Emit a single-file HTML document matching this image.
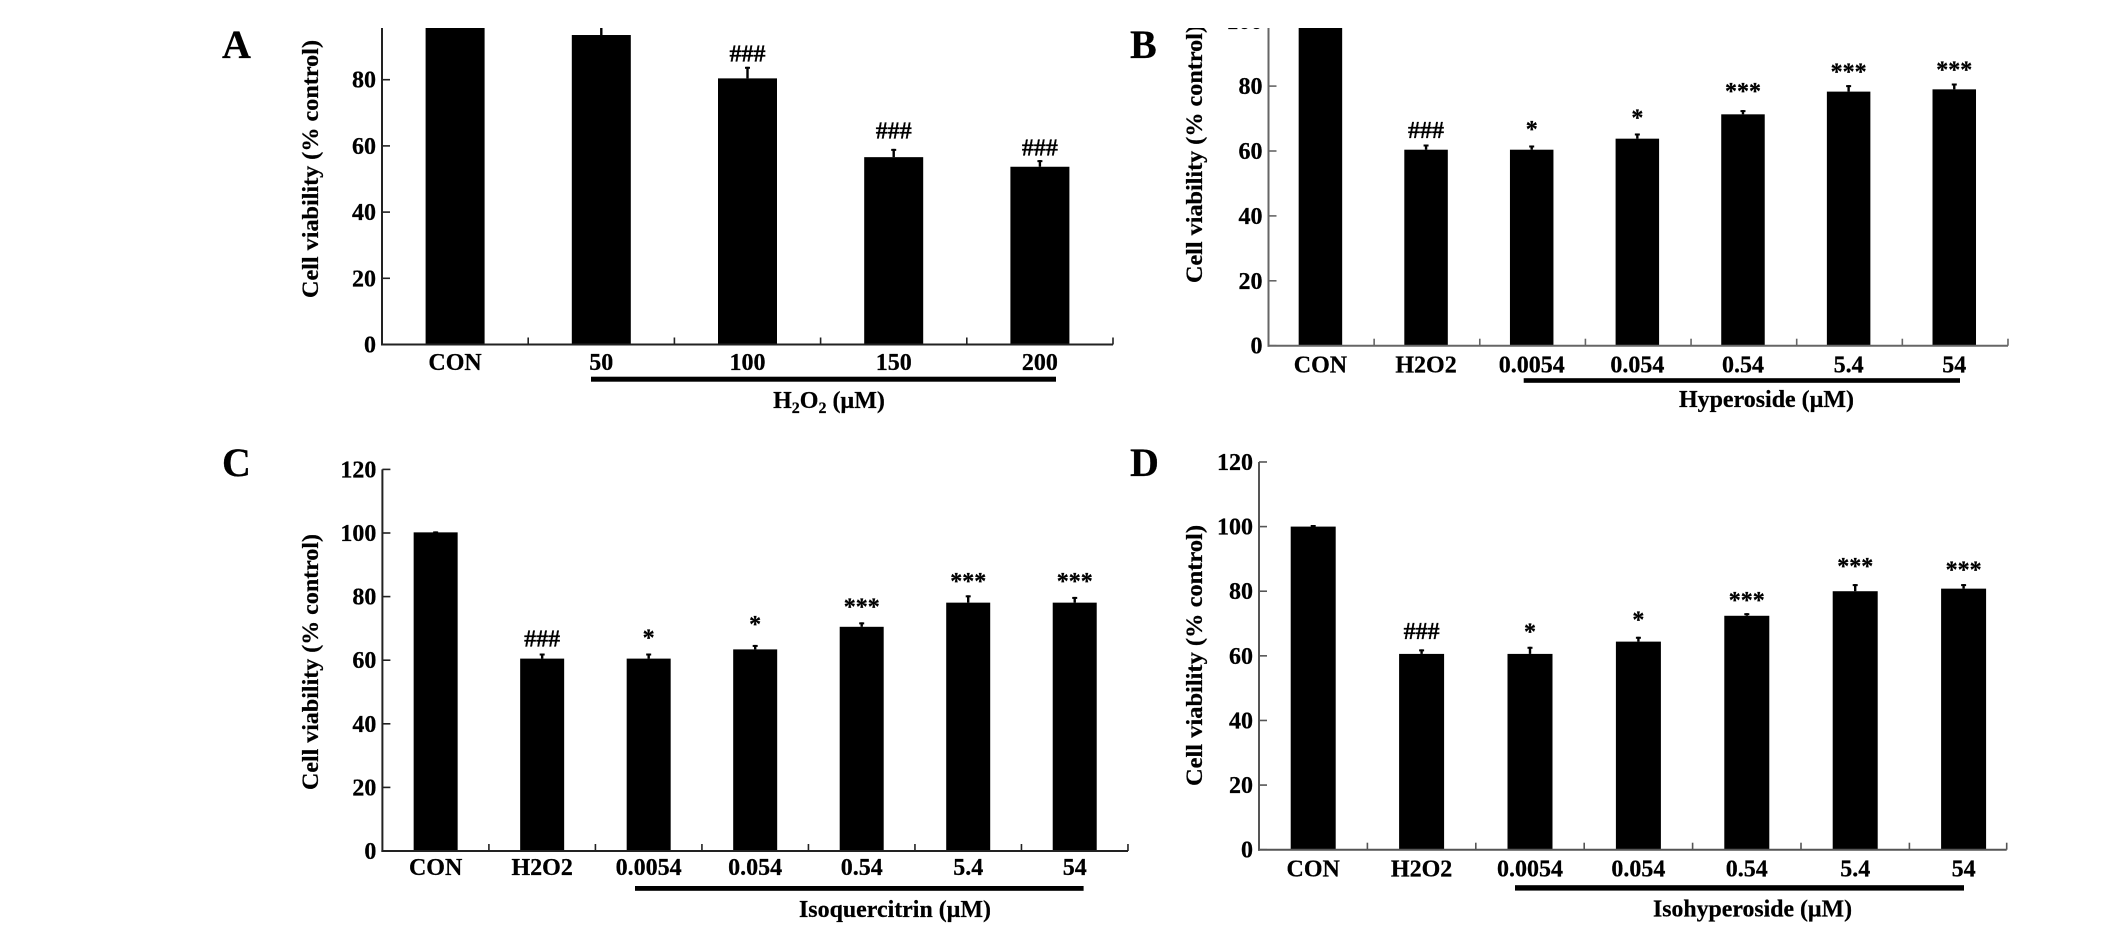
<!DOCTYPE html>
<html lang="en">
<head>
<meta charset="utf-8">
<title>Cell viability panels</title>
<style>
  html, body { margin: 0; padding: 0; background: #fff; width: 2126px; height: 934px; overflow: hidden; }
  svg { display: block; font-family: "Liberation Serif", serif; font-weight: bold; fill: #000; }
  svg text { stroke: #000; stroke-width: 0.25px; }
</style>
</head>
<body>
<svg id="figure" xmlns="http://www.w3.org/2000/svg" width="2126" height="934" viewBox="0 0 2126 934">
  <defs>
    <clipPath id="crop-top"><rect x="0" y="28" width="2126" height="420"></rect></clipPath>
  </defs>
</svg>
<script>
// ---- chart data ----
const yTicks = [0, 20, 40, 60, 80, 100, 120];

const categoriesA = ['CON', '50', '100', '150', '200'];
const valuesA = [100, 93.5, 80.4, 56.6, 53.7];
const errorTopsA = [100.5, 96.8, 83.9, 59.1, 55.7];
const marksA = ['', '', '###', '###', '###'];
const markLevelsA = [0, 0, 85.5, 62.2, 57.1];

const categoriesB = ['CON', 'H2O2', '0.0054', '0.054', '0.54', '5.4', '54'];
const valuesB = [100, 60.4, 60.4, 63.8, 71.3, 78.3, 79];
const errorTopsB = [100.5, 62, 61.7, 65.4, 72.6, 80.3, 80.8];
const marksB = ['', '###', '*', '*', '***', '***', '***'];
const markLevelsB = [0, 64, 64.3, 67.9, 76, 82.1, 82.7];

const categoriesC = ['CON', 'H2O2', '0.0054', '0.054', '0.54', '5.4', '54'];
const valuesC = [100.2, 60.5, 60.5, 63.4, 70.5, 78.1, 78.1];
const errorTopsC = [100.5, 62.1, 62.1, 64.8, 71.9, 80.4, 79.9];
const marksC = ['', '###', '*', '*', '***', '***', '***'];
const markLevelsC = [0, 64.3, 64.6, 68.8, 74.3, 82.4, 82.4];

const categoriesD = ['CON', 'H2O2', '0.0054', '0.054', '0.54', '5.4', '54'];
const valuesD = [100, 60.6, 60.6, 64.4, 72.4, 80, 80.8];
const errorTopsD = [100.5, 62, 62.8, 65.9, 73.2, 82.2, 82.2];
const marksD = ['', '###', '*', '*', '***', '***', '***'];
const markLevelsD = [0, 65.2, 65.1, 68.8, 74.8, 85.4, 84.2];

// ---- panel layout ----
const panels = [
  { id: 'a', letter: 'A', lx: 222, ly: 58, left: 382, right: 1113, step: 146.2, shift: 0, base: 344.5, unit: 3.31, barW: 59, axis: '#222', clip: true,
    cats: categoriesA, vals: valuesA, errs: errorTopsA, marks: marksA, levels: markLevelsA,
    tx: 318, tb: 298, tl: 258, xBase: 370, rule: [591, 1056, 376.7, 5], group: null, gx: 829, gy: 408 },
  { id: 'b', letter: 'B', lx: 1130, ly: 58, left: 1268.5, right: 2008, step: 105.64, shift: -0.9, base: 345.7, unit: 3.245, barW: 43.5, axis: '#666', clip: true,
    cats: categoriesB, vals: valuesB, errs: errorTopsB, marks: marksB, levels: markLevelsB,
    tx: 1202, tb: 283, tl: 258, xBase: 372.7, rule: [1523.7, 1960, 378.2, 4.6], group: 'Hyperoside (µM)', gx: 1766.5, gy: 407, gl: 175 },
  { id: 'c', letter: 'C', lx: 222, ly: 476, left: 382.4, right: 1128, step: 106.51, shift: 0, base: 851, unit: 3.18, barW: 44, axis: '#222', clip: false,
    cats: categoriesC, vals: valuesC, errs: errorTopsC, marks: marksC, levels: markLevelsC,
    tx: 318, tb: 790, tl: 256, xBase: 875, rule: [635, 1083.6, 886, 4.8], group: 'Isoquercitrin (µM)', gx: 895, gy: 917, gl: 192 },
  { id: 'd', letter: 'D', lx: 1130, ly: 476, left: 1259, right: 2006.7, step: 108.4, shift: 0, base: 849.7, unit: 3.231, barW: 45, axis: '#555', clip: false,
    cats: categoriesD, vals: valuesD, errs: errorTopsD, marks: marksD, levels: markLevelsD,
    tx: 1202, tb: 786, tl: 261, xBase: 876.7, rule: [1515, 1964, 885.2, 5.4], group: 'Isohyperoside (µM)', gx: 1752.5, gy: 916.7, gl: 199 }
];

const NS = 'http://www.w3.org/2000/svg';
const figure = document.getElementById('figure');

function make(tag, attrs, parent, name) {
  const el = document.createElementNS(NS, tag);
  for (const k in attrs) el.setAttribute(k, attrs[k]);
  
  
  parent.appendChild(el);
  return el;
}

panels.forEach(function (p) {
  const y = function (v) { return p.base - v * p.unit; };
  const x = function (i) { return p.left + p.shift + (i + 0.5) * p.step; };

  const panel = make('g', {}, figure, 'panel-' + p.id);

  const letter = make('text', { x: p.lx, y: p.ly, 'font-size': 40 }, panel, 'panel-letter-' + p.id);
  letter.textContent = p.letter;

  const plot = make('g', p.clip ? { 'clip-path': 'url(#crop-top)' } : {}, panel, 'plot-' + p.id);

  // y axis title
  const title = make('text', {
    transform: 'translate(' + p.tx + ',' + p.tb + ') rotate(-90)',
    'font-size': 23, textLength: p.tl, lengthAdjust: 'spacingAndGlyphs'
  }, plot, 'y-axis-title');
  title.textContent = 'Cell viability (% control)';

  // y axis
  make('line', { x1: p.left, x2: p.left, y1: y(120), y2: p.base + 1, stroke: p.axis, 'stroke-width': 2 }, plot, 'y-axis-line');
  yTicks.forEach(function (t) {
    make('line', { x1: p.left, x2: p.left + 8, y1: y(t), y2: y(t), stroke: p.axis, 'stroke-width': 1.6 }, plot, 'y-tick-' + t);
    const lab = make('text', { x: p.left - 6, y: y(t) + 8, 'font-size': 24, 'text-anchor': 'end' }, plot, 'y-tick-label-' + t);
    lab.textContent = String(t);
  });

  // bars
  p.cats.forEach(function (c, i) {
    const cx = x(i);
    make('rect', { x: cx - p.barW / 2, y: y(p.vals[i]), width: p.barW, height: p.base - y(p.vals[i]), fill: '#000' }, plot, 'bar-' + c);
    make('line', { x1: cx, x2: cx, y1: y(p.vals[i]), y2: y(p.errs[i]), stroke: '#000', 'stroke-width': 2.4 }, plot, 'error-bar-' + c);
    make('line', { x1: cx - 2.5, x2: cx + 2.5, y1: y(p.errs[i]) + 1, y2: y(p.errs[i]) + 1, stroke: '#000', 'stroke-width': 2 }, plot, 'error-cap-' + c);
    if (p.marks[i]) {
      const m = make('text', { x: cx, y: y(p.levels[i]), 'font-size': 24, 'text-anchor': 'middle' }, plot, 'significance-mark-' + c);
      m.textContent = p.marks[i];
    }
    const lab = make('text', { x: cx, y: p.xBase, 'font-size': 24, 'text-anchor': 'middle' }, panel, 'x-tick-label-' + c);
    lab.textContent = c;
  });

  // x axis
  make('line', { x1: p.left - 1, x2: p.right, y1: p.base, y2: p.base, stroke: p.axis, 'stroke-width': 2 }, plot, 'x-axis-line');
  for (let i = 1; i <= p.cats.length; i++) {
    const tx = Math.min(p.left + i * p.step, p.right);
    make('line', { x1: tx, x2: tx, y1: p.base, y2: p.base - 7, stroke: p.axis, 'stroke-width': 1.6 }, plot, 'x-tick-' + i);
  }

  // treatment group rule and label
  make('rect', { x: p.rule[0], y: p.rule[2], width: p.rule[1] - p.rule[0], height: p.rule[3], fill: '#000' }, panel, 'treatment-group-rule');
  const g = make('text', { x: p.gx, y: p.gy, 'font-size': 24, 'text-anchor': 'middle' }, panel, 'treatment-group-label');
  if (p.group) {
    g.setAttribute('textLength', p.gl);
    g.setAttribute('lengthAdjust', 'spacingAndGlyphs');
    g.textContent = p.group;
  } else {
    const parts = [['H', 0, 24], ['2', 5, 16], ['O', -5, 24], ['2', 5, 16], [' (µM)', -5, 24]];
    parts.forEach(function (part) {
      const s = document.createElementNS(NS, 'tspan');
      s.setAttribute('dy', part[1]);
      s.setAttribute('font-size', part[2]);
      s.textContent = part[0];
      g.appendChild(s);
    });
  }
});
</script>
</body>
</html>
